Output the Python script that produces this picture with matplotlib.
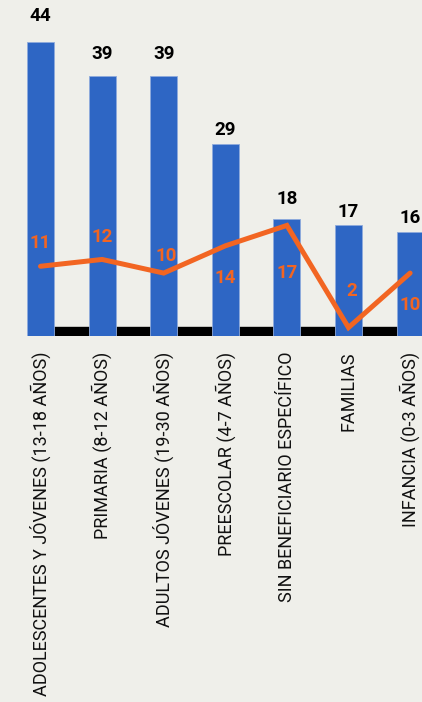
import matplotlib.pyplot as plt

# datos
categorias = [
    "ADOLESCENTES Y JÓVENES (13-18 AÑOS)",
    "PRIMARIA (8-12 AÑOS)",
    "ADULTOS JÓVENES (19-30 AÑOS)",
    "PREESCOLAR (4-7 AÑOS)",
    "SIN BENEFICIARIO ESPECÍFICO",
    "FAMILIAS",
    "INFANCIA (0-3 AÑOS)",
]
barras = [44, 39, 39, 29, 18, 17, 16]
linea = [11, 12, 10, 14, 17, 2, 10]

# estilo
FONDO = "#efefea"
AZUL = "#2e66c4"
NARANJA = "#f26522"
off_barras = [18.7, 15.6, 15.6, 10, 14, 10, 10.5]       # puntos sobre la barra
off_linea = [(0, 17), (0, 16), (1.5, 12), (0, -23), (0, -34), (2, 26), (0, -23)]

plt.rcParams["font.family"] = ["Roboto", "DejaVu Sans"]

fig = plt.figure(figsize=(4.22, 7.02), dpi=100, facecolor=FONDO)
ax = fig.add_axes([0, (702 - 336) / 702, 1, 336 / 702])
ax.set_facecolor(FONDO)

x = list(range(len(categorias)))
ax.set_xlim(-40.5 / 61.6, (422 - 40.5) / 61.6)
ax.set_ylim(0.76, 50.1)

# linea negra base
ax.axhspan(0.76, 0.76 + 9 / 6.8, xmin=40.5 / 422, xmax=1, color="black", zorder=1)

ax.bar(x, barras, width=0.44, color=AZUL, edgecolor="#8fabdc", linewidth=0.6, zorder=2)
ax.plot(x, linea, color=NARANJA, linewidth=3.6, solid_capstyle="round",
        solid_joinstyle="miter", zorder=3)

for i, v in enumerate(barras):
    ax.annotate(str(v), (i, v), xytext=(0, off_barras[i]), textcoords="offset points",
                ha="center", va="center", fontsize=13.5, fontweight="bold", color="black",
                zorder=4)

for i, v in enumerate(linea):
    ax.annotate(str(v), (i, v), xytext=off_linea[i], textcoords="offset points",
                ha="center", va="center", fontsize=13.5, fontweight="bold", color=NARANJA,
                zorder=4)

ax.set_xticks(x)
ax.set_xticklabels(categorias, rotation=90, fontsize=13, fontweight="normal",
                   color="#111111", va="top", ha="center")
ax.tick_params(axis="x", length=0, pad=11.5)
ax.set_yticks([])
for s in ax.spines.values():
    s.set_visible(False)

fig.savefig("out.png", dpi=100, facecolor=FONDO)
plt.close()
